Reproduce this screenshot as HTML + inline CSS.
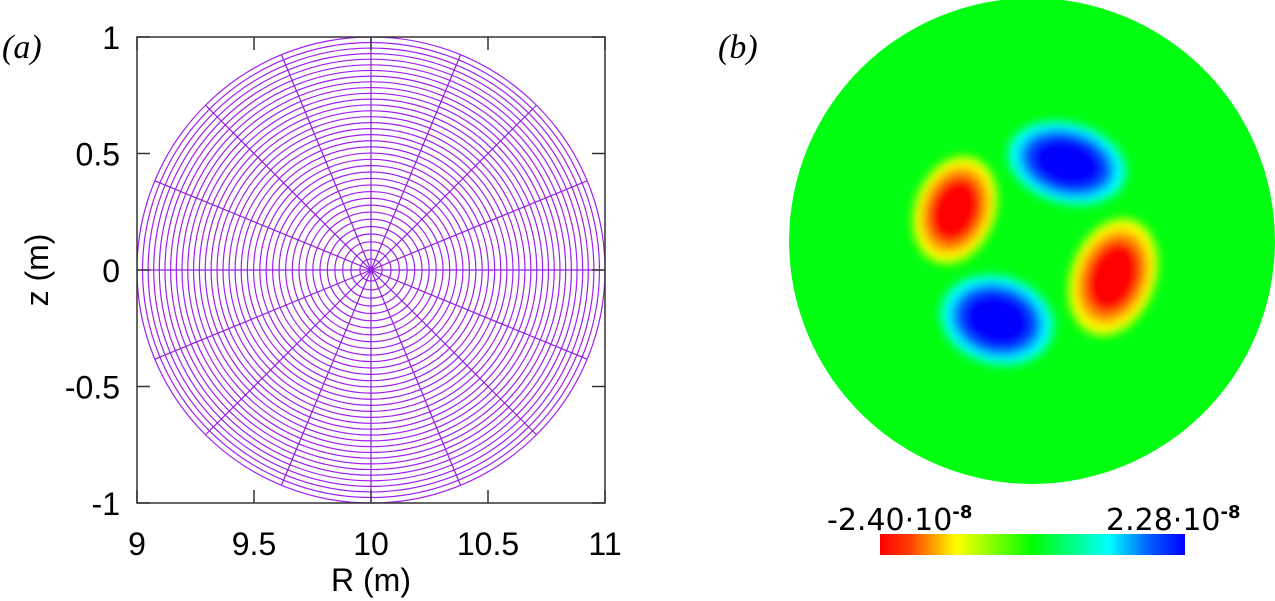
<!DOCTYPE html>
<html><head><meta charset="utf-8"><style>
body{margin:0;background:#fff;width:1275px;height:601px;overflow:hidden}
svg{display:block}
text{font-family:"Liberation Sans",sans-serif}
</style></head><body>
<svg id="s" width="1275" height="601">
<defs>
<filter id="bl" x="-50%" y="-50%" width="200%" height="200%"><feGaussianBlur stdDeviation="5"/></filter>
<clipPath id="cc"><circle cx="1032" cy="241" r="243"/></clipPath>
<linearGradient id="cb" x1="0" x2="1">
<stop offset="0" stop-color="#ff0000"/><stop offset="0.1" stop-color="#ff4000"/><stop offset="0.25" stop-color="#ffff00"/>
<stop offset="0.5" stop-color="#00ff00"/><stop offset="0.75" stop-color="#00ffff"/><stop offset="0.88" stop-color="#0060ff"/><stop offset="1" stop-color="#0000ff"/>
</linearGradient>
</defs>
<text x="2" y="58" font-size="34" style="font-family:'Liberation Serif',serif;font-style:italic">(a)</text>
<text x="718" y="58" font-size="34" style="font-family:'Liberation Serif',serif;font-style:italic">(b)</text>
<g id="grid"></g>
<rect x="137" y="37" width="468" height="466" fill="none" stroke="#333" stroke-width="1.5"/>
<g id="ticks"></g>
<text x="371" y="591" font-size="32" text-anchor="middle">R (m)</text>
<text transform="translate(48,270) rotate(-90)" font-size="32" text-anchor="middle">z (m)</text>
<g clip-path="url(#cc)">
<circle cx="1032" cy="241" r="243" fill="#00ff10"/>
<g id="blobs" filter="url(#bl)"></g>
</g>
<rect x="880" y="534" width="305" height="21" fill="url(#cb)"/>
<text x="827" y="530" font-size="30" style="font-family:'DejaVu Sans',sans-serif">-2.40·10<tspan dy="-12" font-size="18" font-weight="bold">-8</tspan></text>
<text x="1106" y="530" font-size="30" style="font-family:'DejaVu Sans',sans-serif">2.28·10<tspan dy="-12" font-size="18" font-weight="bold">-8</tspan></text>
</svg>
<script>
const xTicks=[9,9.5,10,10.5,11];
const yTicks=[1,0.5,0,-0.5,-1];
const xTickLabels=["9","9.5","10","10.5","11"];
const yTickLabels=["1","0.5","0","-0.5","-1"];
const ringCount=36;
const spokeCount=16;
const blobX=[-77,35,81,-35];
const blobY=[-31,-78,36,79];
const blobAmp=[-2.4,2.28,-2.4,2.28];
const blobRx=[40,60,42,57];
const blobRy=[55,40,60,44];
const blobTilt=[20,15,20,15];
const NS="http://www.w3.org/2000/svg";
const X=v=>137+(v-9)*234, Y=v=>270-v*233;
function mk(t,a,p){const e=document.createElementNS(NS,t);for(const k in a)e.setAttribute(k,a[k]);p.appendChild(e);return e;}
const grid=document.getElementById('grid');
for(let i=1;i<=ringCount;i++){const r=Math.pow(i/ringCount,0.85);
const c=mk('ellipse',{cx:X(10),cy:Y(0),rx:r*234,ry:r*233,fill:'none',stroke:'#a020f0','stroke-width':1.2},grid);

}
for(let k=0;k<spokeCount;k++){const a=k*2*Math.PI/spokeCount;
const l=mk('line',{x1:X(10),y1:Y(0),x2:X(10+Math.cos(a)),y2:Y(Math.sin(a)),stroke:'#9020e0','stroke-width':1.2},grid);

}
const tk=document.getElementById('ticks');
xTicks.forEach((v,i)=>{mk('line',{x1:X(v),y1:503,x2:X(v),y2:490,stroke:'#333','stroke-width':1.5},tk);mk('line',{x1:X(v),y1:37,x2:X(v),y2:50,stroke:'#333','stroke-width':1.5},tk);
const t=mk('text',{x:X(v),y:555,'font-size':32,'text-anchor':'middle'},tk);t.textContent=xTickLabels[i];

});
yTicks.forEach((v,i)=>{mk('line',{x1:137,y1:Y(v),x2:150,y2:Y(v),stroke:'#333','stroke-width':1.5},tk);mk('line',{x1:605,y1:Y(v),x2:592,y2:Y(v),stroke:'#333','stroke-width':1.5},tk);
const t=mk('text',{x:120,y:Y(v)+12,'font-size':32,'text-anchor':'end'},tk);t.textContent=yTickLabels[i];

});
const bl=document.getElementById('blobs');
blobX.forEach((dx,i)=>{const neg=blobAmp[i]<0;const cols=neg?['#ffff00','#ff9000','#ff0000']:['#00ffff','#0060ff','#0000ff'];const sc=[1,0.8,0.62];
const g=mk('g',{transform:`translate(${1032+dx},${241+blobY[i]}) rotate(${blobTilt[i]})`},bl);


cols.forEach((c,j)=>mk('ellipse',{cx:0,cy:0,rx:blobRx[i]*sc[j],ry:blobRy[i]*sc[j],fill:c},g));});
</script>
</body></html>
